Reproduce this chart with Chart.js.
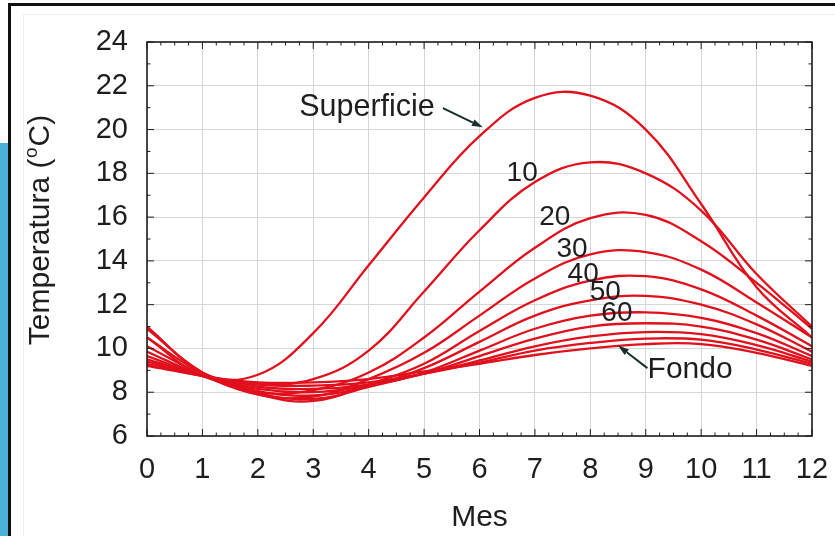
<!DOCTYPE html>
<html>
<head>
<meta charset="utf-8">
<script src="https://cdn.jsdelivr.net/npm/chart.js@4.4.1/dist/chart.umd.min.js"></script>
<style>
  html, body { margin: 0; padding: 0; background: #fff; }
  #wrap { position: relative; width: 835px; height: 536px; overflow: hidden; background: #fff; }
  .faint { position: absolute; left: 23px; top: 14px; right: 0; bottom: 0; border-left: 1px solid #eee; border-top: 1px solid #eee; }
  .frame-top { position: absolute; left: 8px; top: 3px; width: 827px; height: 3px; background: #111; }
  .frame-left { position: absolute; left: 8px; top: 3px; width: 3px; height: 533px; background: #111; }
  .blue-bar { position: absolute; left: 0; top: 143px; width: 8px; height: 393px; background: #4db0d8; }
  canvas { position: absolute; left: 0; top: 0; }
</style>
</head>
<body>
<div id="wrap">
  <div class="faint"></div>
  <div class="frame-top"></div>
  <div class="frame-left"></div>
  <div class="blue-bar"></div>
  <canvas id="chart" width="835" height="536"></canvas>
</div>
<script>
// Temperature profiles through the year at several depths
const months = [0, 1, 2, 3, 4, 5, 6, 7, 8, 9, 10, 11, 12];

const tSuperficie = [10.5, 8.8, 8.8, 10.7, 13.8, 16.9, 19.7, 21.45, 21.55, 20.0, 16.6, 12.8, 10.5];
const t10 = [11.0, 8.9, 8.4, 8.6, 9.9, 12.6, 15.4, 17.6, 18.5, 18.0, 16.3, 13.4, 11.0];
const t20 = [10.9, 8.9, 8.0, 8.1, 8.9, 10.5, 12.6, 14.6, 15.95, 16.1, 14.9, 13.0, 10.9];
const t30 = [10.5, 8.85, 7.9, 7.8, 8.6, 9.8, 11.5, 13.2, 14.3, 14.4, 13.6, 12.1, 10.5];
const t40 = [10.1, 8.8, 7.9, 7.6, 8.35, 9.3, 10.8, 12.2, 13.1, 13.3, 12.7, 11.5, 10.1];
const t50 = [9.85, 8.75, 7.95, 7.7, 8.25, 9.1, 10.3, 11.5, 12.2, 12.4, 12.0, 11.1, 9.85];
const t60 = [9.65, 8.75, 8.05, 7.85, 8.25, 8.9, 9.9, 10.9, 11.5, 11.65, 11.4, 10.7, 9.65];
const t70 = [9.5, 8.75, 8.15, 8.0, 8.3, 8.85, 9.65, 10.45, 11.0, 11.15, 11.0, 10.4, 9.5];
const t80 = [9.4, 8.75, 8.25, 8.15, 8.35, 8.85, 9.45, 10.1, 10.55, 10.75, 10.65, 10.15, 9.4];
const t90 = [9.3, 8.75, 8.35, 8.3, 8.45, 8.85, 9.35, 9.9, 10.25, 10.45, 10.4, 9.95, 9.3];
const tFondo = [9.2, 8.75, 8.45, 8.45, 8.6, 8.95, 9.3, 9.7, 10.0, 10.2, 10.2, 9.8, 9.2];

const seriesNames = ['Superficie', '10', '20', '30', '40', '50', '60', '70', '80', '90', 'Fondo'];
const seriesValues = [tSuperficie, t10, t20, t30, t40, t50, t60, t70, t80, t90, tFondo];

const xTicks = [0, 1, 2, 3, 4, 5, 6, 7, 8, 9, 10, 11, 12];
const yTicks = [6, 8, 10, 12, 14, 16, 18, 20, 22, 24];

const RED = '#e0101c';
const INK = '#1e1e1e';
const FONT = '"Liberation Sans", Arial, sans-serif';

// curve labels, placed in data coordinates
const curveLabels = [
  { text: 'Superficie', x: 3.97, y: 21.0, size: 30.5 },
  { text: '10', x: 6.77, y: 18.0, size: 28 },
  { text: '20', x: 7.36, y: 16.0, size: 28 },
  { text: '30', x: 7.67, y: 14.55, size: 28 },
  { text: '40', x: 7.87, y: 13.4, size: 28 },
  { text: '50', x: 8.27, y: 12.55, size: 28 },
  { text: '60', x: 8.48, y: 11.6, size: 28 },
  { text: 'Fondo', x: 9.8, y: 9.05, size: 30 }
];
const arrows = [
  { from: [5.34, 20.98], to: [6.06, 20.1] },
  { from: [9.03, 9.1], to: [8.5, 10.13] }
];

function line(ctx, x1, y1, x2, y2) {
  ctx.beginPath();
  ctx.moveTo(x1, y1);
  ctx.lineTo(x2, y2);
  ctx.stroke();
}

const framePlugin = {
  id: 'frame',
  afterDraw(chart) {
    const { ctx, chartArea: a, scales: { x, y } } = chart;
    ctx.save();

    // inward ticks on all four sides
    ctx.strokeStyle = INK;
    ctx.lineWidth = 1;
    for (let i = 0; i <= 48; i++) {
      const px = x.getPixelForValue(i / 4);
      const len = i % 4 === 0 ? 7 : 3.5;
      line(ctx, px, a.bottom, px, a.bottom - len);
      line(ctx, px, a.top, px, a.top + len);
    }
    for (let v = 6; v <= 24; v++) {
      const py = y.getPixelForValue(v);
      const len = v % 2 === 0 ? 7 : 3.5;
      line(ctx, a.left, py, a.left + len, py);
      line(ctx, a.right, py, a.right - len, py);
    }
    ctx.lineWidth = 1.6;
    ctx.strokeRect(a.left, a.top, a.right - a.left, a.bottom - a.top);

    // curve labels
    ctx.fillStyle = INK;
    ctx.textAlign = 'center';
    ctx.textBaseline = 'middle';
    curveLabels.forEach(l => {
      ctx.font = l.size + 'px ' + FONT;
      ctx.fillText(l.text, x.getPixelForValue(l.x), y.getPixelForValue(l.y));
    });

    // arrows
    ctx.strokeStyle = '#16302c';
    ctx.fillStyle = '#16302c';
    ctx.lineWidth = 2;
    arrows.forEach(ar => {
      const x1 = x.getPixelForValue(ar.from[0]), y1 = y.getPixelForValue(ar.from[1]);
      const x2 = x.getPixelForValue(ar.to[0]), y2 = y.getPixelForValue(ar.to[1]);
      const ang = Math.atan2(y2 - y1, x2 - x1);
      const hl = 11;
      const bx = x2 - hl * Math.cos(ang), by = y2 - hl * Math.sin(ang);
      line(ctx, x1, y1, bx, by);
      ctx.beginPath();
      ctx.moveTo(x2, y2);
      ctx.lineTo(bx + 3.5 * Math.sin(ang), by - 3.5 * Math.cos(ang));
      ctx.lineTo(bx - 3.5 * Math.sin(ang), by + 3.5 * Math.cos(ang));
      ctx.closePath();
      ctx.fill();
    });

    // y axis title with superscript o
    ctx.translate(39, 230);
    ctx.rotate(-Math.PI / 2);
    ctx.fillStyle = INK;
    ctx.textAlign = 'left';
    ctx.textBaseline = 'alphabetic';
    const big = '30px ' + FONT, small = '19px ' + FONT;
    ctx.font = big;
    const w1 = ctx.measureText('Temperatura (').width;
    const w3 = ctx.measureText('C)').width;
    ctx.font = small;
    const w2 = ctx.measureText('o').width + 1.5;
    let u = -(w1 + w2 + w3) / 2;
    ctx.font = big;
    ctx.fillText('Temperatura (', u, 10);
    u += w1 + 0.5;
    ctx.font = small;
    ctx.fillText('o', u, -2);
    u += w2 - 0.5;
    ctx.font = big;
    ctx.fillText('C)', u, 10);

    ctx.restore();
  }
};

const datasets = seriesValues.map((vals, i) => ({
  label: seriesNames[i],
  data: months.map((m, j) => ({ x: m, y: vals[j] })),
  borderColor: RED,
  borderWidth: 2.3,
  pointRadius: 0,
  tension: 0.4,
  fill: false
}));

new Chart(document.getElementById('chart'), {
  type: 'line',
  data: { datasets: datasets },
  options: {
    responsive: false,
    animation: false,
    devicePixelRatio: 1,
    layout: { padding: { left: 0, top: 42, right: 23, bottom: 0 } },
    plugins: { legend: { display: false }, tooltip: { enabled: false } },
    scales: {
      x: {
        type: 'linear',
        min: 0,
        max: 12,
        afterFit: s => { s.height = 100; s.paddingLeft = 0; s.paddingRight = 0; },
        afterBuildTicks: s => { s.ticks = xTicks.map(v => ({ value: v })); },
        ticks: { color: INK, font: { family: FONT, size: 29 }, padding: 17, maxRotation: 0 },
        grid: { color: '#d6d6d6', lineWidth: 1, drawTicks: false },
        border: { display: false },
        title: { display: true, text: 'Mes', color: INK, font: { family: FONT, size: 30 }, padding: { top: 0, bottom: 0 } }
      },
      y: {
        min: 6,
        max: 24,
        afterFit: s => { s.width = 147; s.paddingTop = 0; s.paddingBottom = 0; },
        afterBuildTicks: s => { s.ticks = yTicks.map(v => ({ value: v })); },
        ticks: { color: INK, font: { family: FONT, size: 29 }, padding: 19 },
        grid: { color: '#d6d6d6', lineWidth: 1, drawTicks: false },
        border: { display: false }
      }
    }
  },
  plugins: [framePlugin]
});
</script>
</body>
</html>
